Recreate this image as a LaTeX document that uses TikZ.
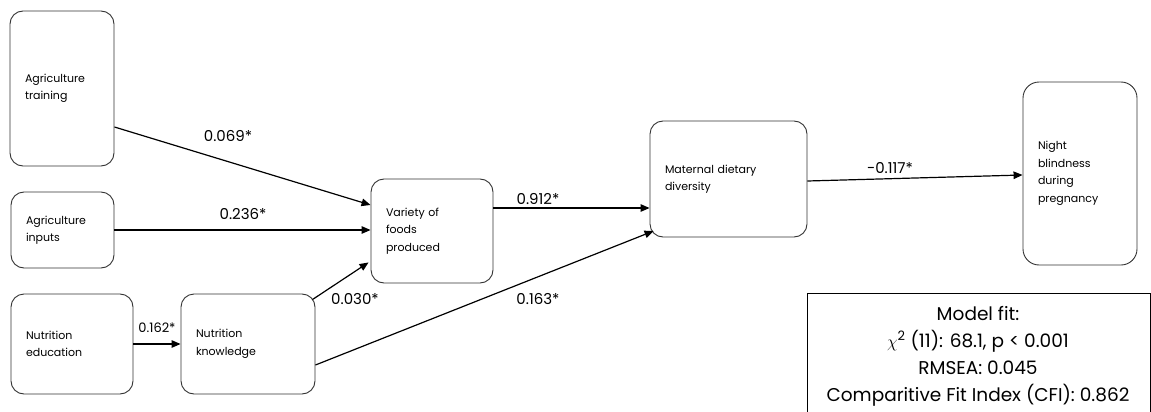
\documentclass[tikz,border=0pt]{standalone}
\usepackage{fontspec}
\setmainfont{Poppins}
\usetikzlibrary{arrows.meta,calc}
\begin{document}
\begin{tikzpicture}[x=1pt,y=-1pt,
 box/.style={draw=black!80, line width=0.9pt, rounded corners=13pt, align=left, inner xsep=15pt, inner ysep=0pt, font=\fontsize{11}{17.5}\selectfont},
 arr/.style={-{Triangle[length=9pt,width=7.5pt]}, line width=1.2pt},
 lab/.style={font=\fontsize{15}{17}\selectfont, inner sep=0pt}]
\useasboundingbox (0,0) rectangle (1151,412);
\node[box, text width=74pt, minimum height=155pt] (at) at (62,88.5) {Agriculture\\training};
\node[box, text width=73pt, minimum height=76pt] (ai) at (62.5,230) {Agriculture\\inputs};
\node[box, text width=92pt, minimum height=100pt] (ne) at (72,344) {Nutrition\\education};
\node[box, text width=104pt, minimum height=100pt] (nk) at (248,344) {Nutrition\\knowledge};
\node[box, text width=92pt, minimum height=104pt] (vf) at (432,231) {Variety of\\foods\\produced};
\node[box, text width=127pt, minimum height=116pt] (md) at (728.5,179) {Maternal dietary\\diversity};
\node[box, text width=84pt, minimum height=183pt, rounded corners=16pt] (nb) at (1080,173.5) {Night\\blindness\\during\\pregnancy};
\node[draw, line width=1.3pt, anchor=north west, minimum width=342.5pt, minimum height=140pt, inner sep=0pt] (mf) at (807,293) {};
\node[font=\fontsize{18.5}{27}\selectfont, align=center, inner sep=0pt] (mft) at (978,356) {Model fit:\\$\chi$\textsuperscript{2} (11): 68.1, p < 0.001\\RMSEA: 0.045\\Comparitive Fit Index (CFI): 0.862};
\draw[arr] (at.east |- {(0,127)}) -- (vf.west |- {(0,205)});
\draw[arr] (ai.east) -- (vf.west |- ai.east);
\draw[arr] (ne.east) -- (nk.west);
\draw[arr] ($(nk.north east)+(-3,6)$) -- ($(vf.south west)+(-2,-21)$);
\draw[arr] (nk.east |- {(0,365)}) -- ($(md.west |- {(0,231)})+(4,0)$);
\draw[arr] (vf.east |- {(0,208)}) -- (md.west |- {(0,208)});
\draw[arr] (md.east |- {(0,181)}) -- (nb.west |- {(0,175)});
\node[lab] (l1) at (228,136) {0.069*};
\node[lab] (l2) at (243,214) {0.236*};
\node[lab, font=\fontsize{13}{15}\selectfont] (l3) at (157,328) {0.162*};
\node[lab] (l4) at (355,299) {0.030*};
\node[lab] (l5) at (538,199) {0.912*};
\node[lab] (l6) at (538,299) {0.163*};
\node[lab] (l7) at (890,168) {-0.117*};
\end{tikzpicture}
\end{document}
